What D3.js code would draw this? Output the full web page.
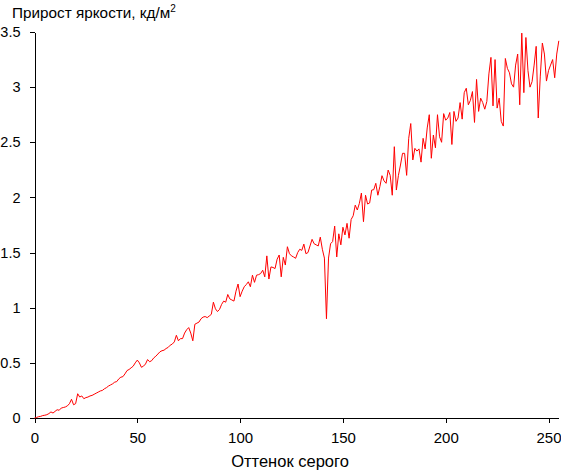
<!DOCTYPE html>
<html>
<head>
<meta charset="utf-8">
<script src="https://cdn.jsdelivr.net/npm/d3@7"></script>
<style>
  html, body { margin: 0; padding: 0; background: #fff; }
  svg { display: block; font-family: "Liberation Sans", Arial, sans-serif; }
</style>
</head>
<body>
<svg id="chart" width="561" height="471"></svg>
<script>
// Gray level (0..255) -> brightness increment, cd/m^2
const grayLevels = d3.range(0, 256);
const brightnessGain = [
  0.00, 0.005, 0.012, 0.015, 0.022, 0.025, 0.03, 0.04, 0.055, 0.045, 0.06, 0.075, 0.07, 0.09, 0.095, 0.10,
  0.11, 0.13, 0.17, 0.12, 0.13, 0.22, 0.19, 0.20, 0.175, 0.185, 0.19, 0.20, 0.205, 0.215, 0.225, 0.235,
  0.245, 0.25, 0.265, 0.275, 0.29, 0.30, 0.31, 0.325, 0.33, 0.355, 0.37, 0.375, 0.40, 0.43, 0.44, 0.455,
  0.47, 0.50, 0.525, 0.50, 0.46, 0.47, 0.49, 0.53, 0.51, 0.52, 0.545, 0.56, 0.58, 0.60, 0.61, 0.615,
  0.63, 0.64, 0.66, 0.67, 0.69, 0.75, 0.70, 0.72, 0.72, 0.77, 0.80, 0.82, 0.77, 0.70, 0.85, 0.86,
  0.87, 0.90, 0.915, 0.92, 0.91, 0.925, 0.94, 1.05, 0.99, 0.965, 0.985, 1.03, 1.06, 1.05, 1.12, 1.08,
  1.07, 1.06, 1.15, 1.215, 1.10, 1.15, 1.19, 1.21, 1.235, 1.19, 1.295, 1.23, 1.295, 1.30, 1.31, 1.34,
  1.28, 1.47, 1.26, 1.37, 1.365, 1.355, 1.44, 1.478, 1.28, 1.457, 1.387, 1.553, 1.49, 1.47, 1.46, 1.448,
  1.50, 1.53, 1.52, 1.577, 1.49, 1.50, 1.56, 1.62, 1.58, 1.57, 1.56, 1.64, 1.53, 1.45, 0.90, 1.45,
  1.58, 1.60, 1.74, 1.46, 1.67, 1.57, 1.73, 1.66, 1.765, 1.63, 1.80, 1.834, 1.93, 1.886, 1.946, 2.04,
  1.78, 2.02, 1.94, 1.95, 2.067, 2.07, 2.128, 2.02, 2.10, 2.197, 2.15, 2.128, 2.248, 2.20, 2.02, 2.46,
  2.067, 2.20, 2.294, 2.40, 2.40, 2.20, 2.536, 2.67, 2.34, 2.445, 2.42, 2.44, 2.32, 2.536, 2.44, 2.63,
  2.75, 2.355, 2.566, 2.45, 2.75, 2.55, 2.50, 2.76, 2.70, 2.72, 2.77, 2.48, 2.78, 2.69, 2.72, 2.86,
  2.71, 2.95, 2.99, 2.84, 2.88, 2.96, 2.68, 3.07, 2.78, 2.90, 2.86, 2.80, 2.87, 3.12, 3.27, 2.83,
  3.25, 2.81, 2.90, 2.69, 2.647, 3.26, 3.17, 3.13, 3.03, 3.00, 3.20, 3.30, 2.84, 3.49, 2.95, 3.45,
  3.15, 3.00, 3.05, 3.20, 3.37, 2.72, 3.10, 3.40, 3.30, 3.055, 3.15, 3.20, 3.25, 3.085, 3.30, 3.42
];
const xTicks = [0, 50, 100, 150, 200, 250];
const yTicks = [0, 0.5, 1, 1.5, 2, 2.5, 3, 3.5];
const yTickLabels = ["0", "0.5", "1", "1.5", "2", "2.5", "3", "3.5"];
const titleText = "Прирост яркости, кд/м";
const titleSup = "2";
const xTitle = "Оттенок серого";

const svg = d3.select("#chart");
const mLeft = 34.5, mRight = 558.8, mTop = 32, mBottom = 418;

const x = d3.scaleLinear().domain([0, 255]).range([mLeft, mRight]);
const y = d3.scaleLinear().domain([0, 3.5]).range([mBottom, mTop]);

// axes
const xAxis = d3.axisBottom(x).tickValues(xTicks).tickFormat(d3.format("d"))
  .tickSize(5).tickSizeOuter(0).tickPadding(9);
const yAxis = d3.axisLeft(y).tickValues(yTicks).tickFormat((d, i) => yTickLabels[i])
  .tickSize(5).tickSizeOuter(0).tickPadding(9);

const gx = svg.append("g").attr("transform", `translate(0,${mBottom})`).call(xAxis);
const gy = svg.append("g").attr("transform", `translate(${mLeft},0)`).call(yAxis);
[gx, gy].forEach(g => {
  g.selectAll("path, line").attr("stroke", "#000").attr("shape-rendering", "crispEdges");
  g.selectAll("text").attr("fill", "#000").style("font-family", "'Liberation Sans', Arial, sans-serif");
});
gx.selectAll("text").style("font-size", "15px");
gy.selectAll("text").style("font-size", "14.5px");

// line
const line = d3.line().x((d, i) => x(grayLevels[i])).y(d => y(d));
svg.append("path")
  .datum(brightnessGain)
  .attr("fill", "none")
  .attr("stroke", "#ff0000")
  .attr("stroke-width", 1)
  .attr("d", line);

// titles
const t = svg.append("text").attr("x", 12).attr("y", 18)
  .style("font-size", "15.3px").attr("fill", "#000");
t.append("tspan").text(titleText);
t.append("tspan").attr("dy", -6).style("font-size", "10px").text(titleSup);

svg.append("text").attr("x", 290).attr("y", 467)
  .attr("text-anchor", "middle").style("font-size", "16.5px").attr("fill", "#000")
  .text(xTitle);
</script>
</body>
</html>
